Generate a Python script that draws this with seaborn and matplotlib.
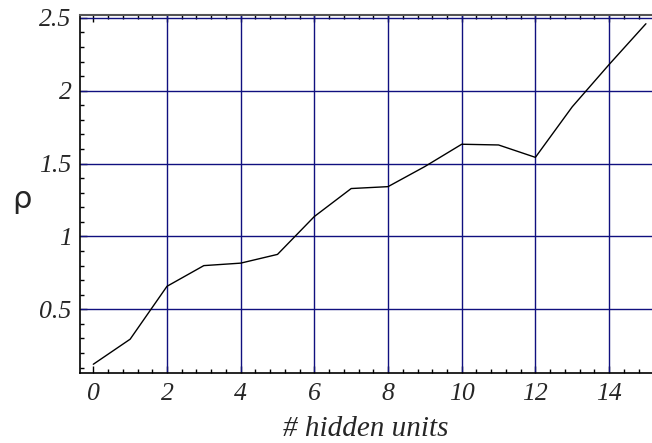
import matplotlib
matplotlib.use("Agg")
import matplotlib.pyplot as plt
from matplotlib.ticker import MultipleLocator
import numpy as np
import pandas as pd
import seaborn as sns

# network size vs. measured rho
hidden_units = [0, 1, 2, 3, 4, 5, 6, 7, 8, 9, 10, 11, 12, 13, 14, 15]
rho_values = [0.123, 0.295, 0.658, 0.800, 0.817, 0.877, 1.137, 1.329,
              1.342, 1.48, 1.633, 1.628, 1.543, 1.89, 2.18, 2.46]

x_ticks = [0, 2, 4, 6, 8, 10, 12, 14]
x_tick_labels = ["0", "2", "4", "6", "8", "10", "12", "14"]
y_ticks = [0.5, 1.0, 1.5, 2.0, 2.5]
y_tick_labels = ["0.5", "1", "1.5", "2", "2.5"]

df = pd.DataFrame({"units": hidden_units, "rho": rho_values})

sns.set_style("white")
plt.rcParams["font.family"] = ["DejaVu Sans"]

fig = plt.figure(figsize=(6.52, 4.43), dpi=100)
ax = fig.add_axes([80 / 652, 70 / 443, 1 - 80 / 652, (373 - 15) / 443])

grid_color = "#10107f"
for xv in x_ticks[1:]:
    ax.axvline(xv, color=grid_color, lw=1.0, zorder=1)
for yv in y_ticks:
    ax.axhline(yv, color=grid_color, lw=1.0, zorder=1)

sns.lineplot(data=df, x="units", y="rho", ax=ax, color="black", lw=1.0,
             zorder=3)

ax.set_xlim(-0.361, 15.165)
ax.set_ylim(0.063, 2.52)

ax.set_xticks(x_ticks)
ax.set_xticklabels(x_tick_labels)
ax.set_yticks(y_ticks)
ax.set_yticklabels(y_tick_labels)
ax.xaxis.set_minor_locator(MultipleLocator(0.4))
ax.yaxis.set_minor_locator(MultipleLocator(0.1))

ax.tick_params(axis="both", which="major", direction="in", length=5,
               width=1.0, color="black", pad=7)
ax.tick_params(axis="both", which="minor", direction="in", length=3,
               width=1.0, color="black")
ax.tick_params(axis="x", which="both", top=True, bottom=True)
ax.tick_params(axis="y", which="both", left=True, right=False)
ax.tick_params(axis="y", which="major", pad=6)

for lab in ax.get_xticklabels() + ax.get_yticklabels():
    lab.set_fontfamily(["Liberation Serif", "DejaVu Serif"])
    lab.set_fontstyle("italic")
    lab.set_fontsize(18.5)

ax.spines["right"].set_visible(False)
for side in ("left", "bottom"):
    ax.spines[side].set_color("black")
    ax.spines[side].set_linewidth(1.2)
ax.spines["top"].set_color("#555555")
ax.spines["top"].set_linewidth(1.5)

ax.set_xlabel("# hidden units", fontfamily=["Liberation Serif", "DejaVu Serif"],
              fontstyle="italic", fontsize=21, labelpad=8)
ax.set_ylabel("ρ", fontfamily="DejaVu Sans", fontsize=22, rotation=0,
              va="center", ha="center")
ax.yaxis.set_label_coords(-(80 - 22) / 572, (373 - 199) / 358)

fig.savefig("out.png", dpi=100)
